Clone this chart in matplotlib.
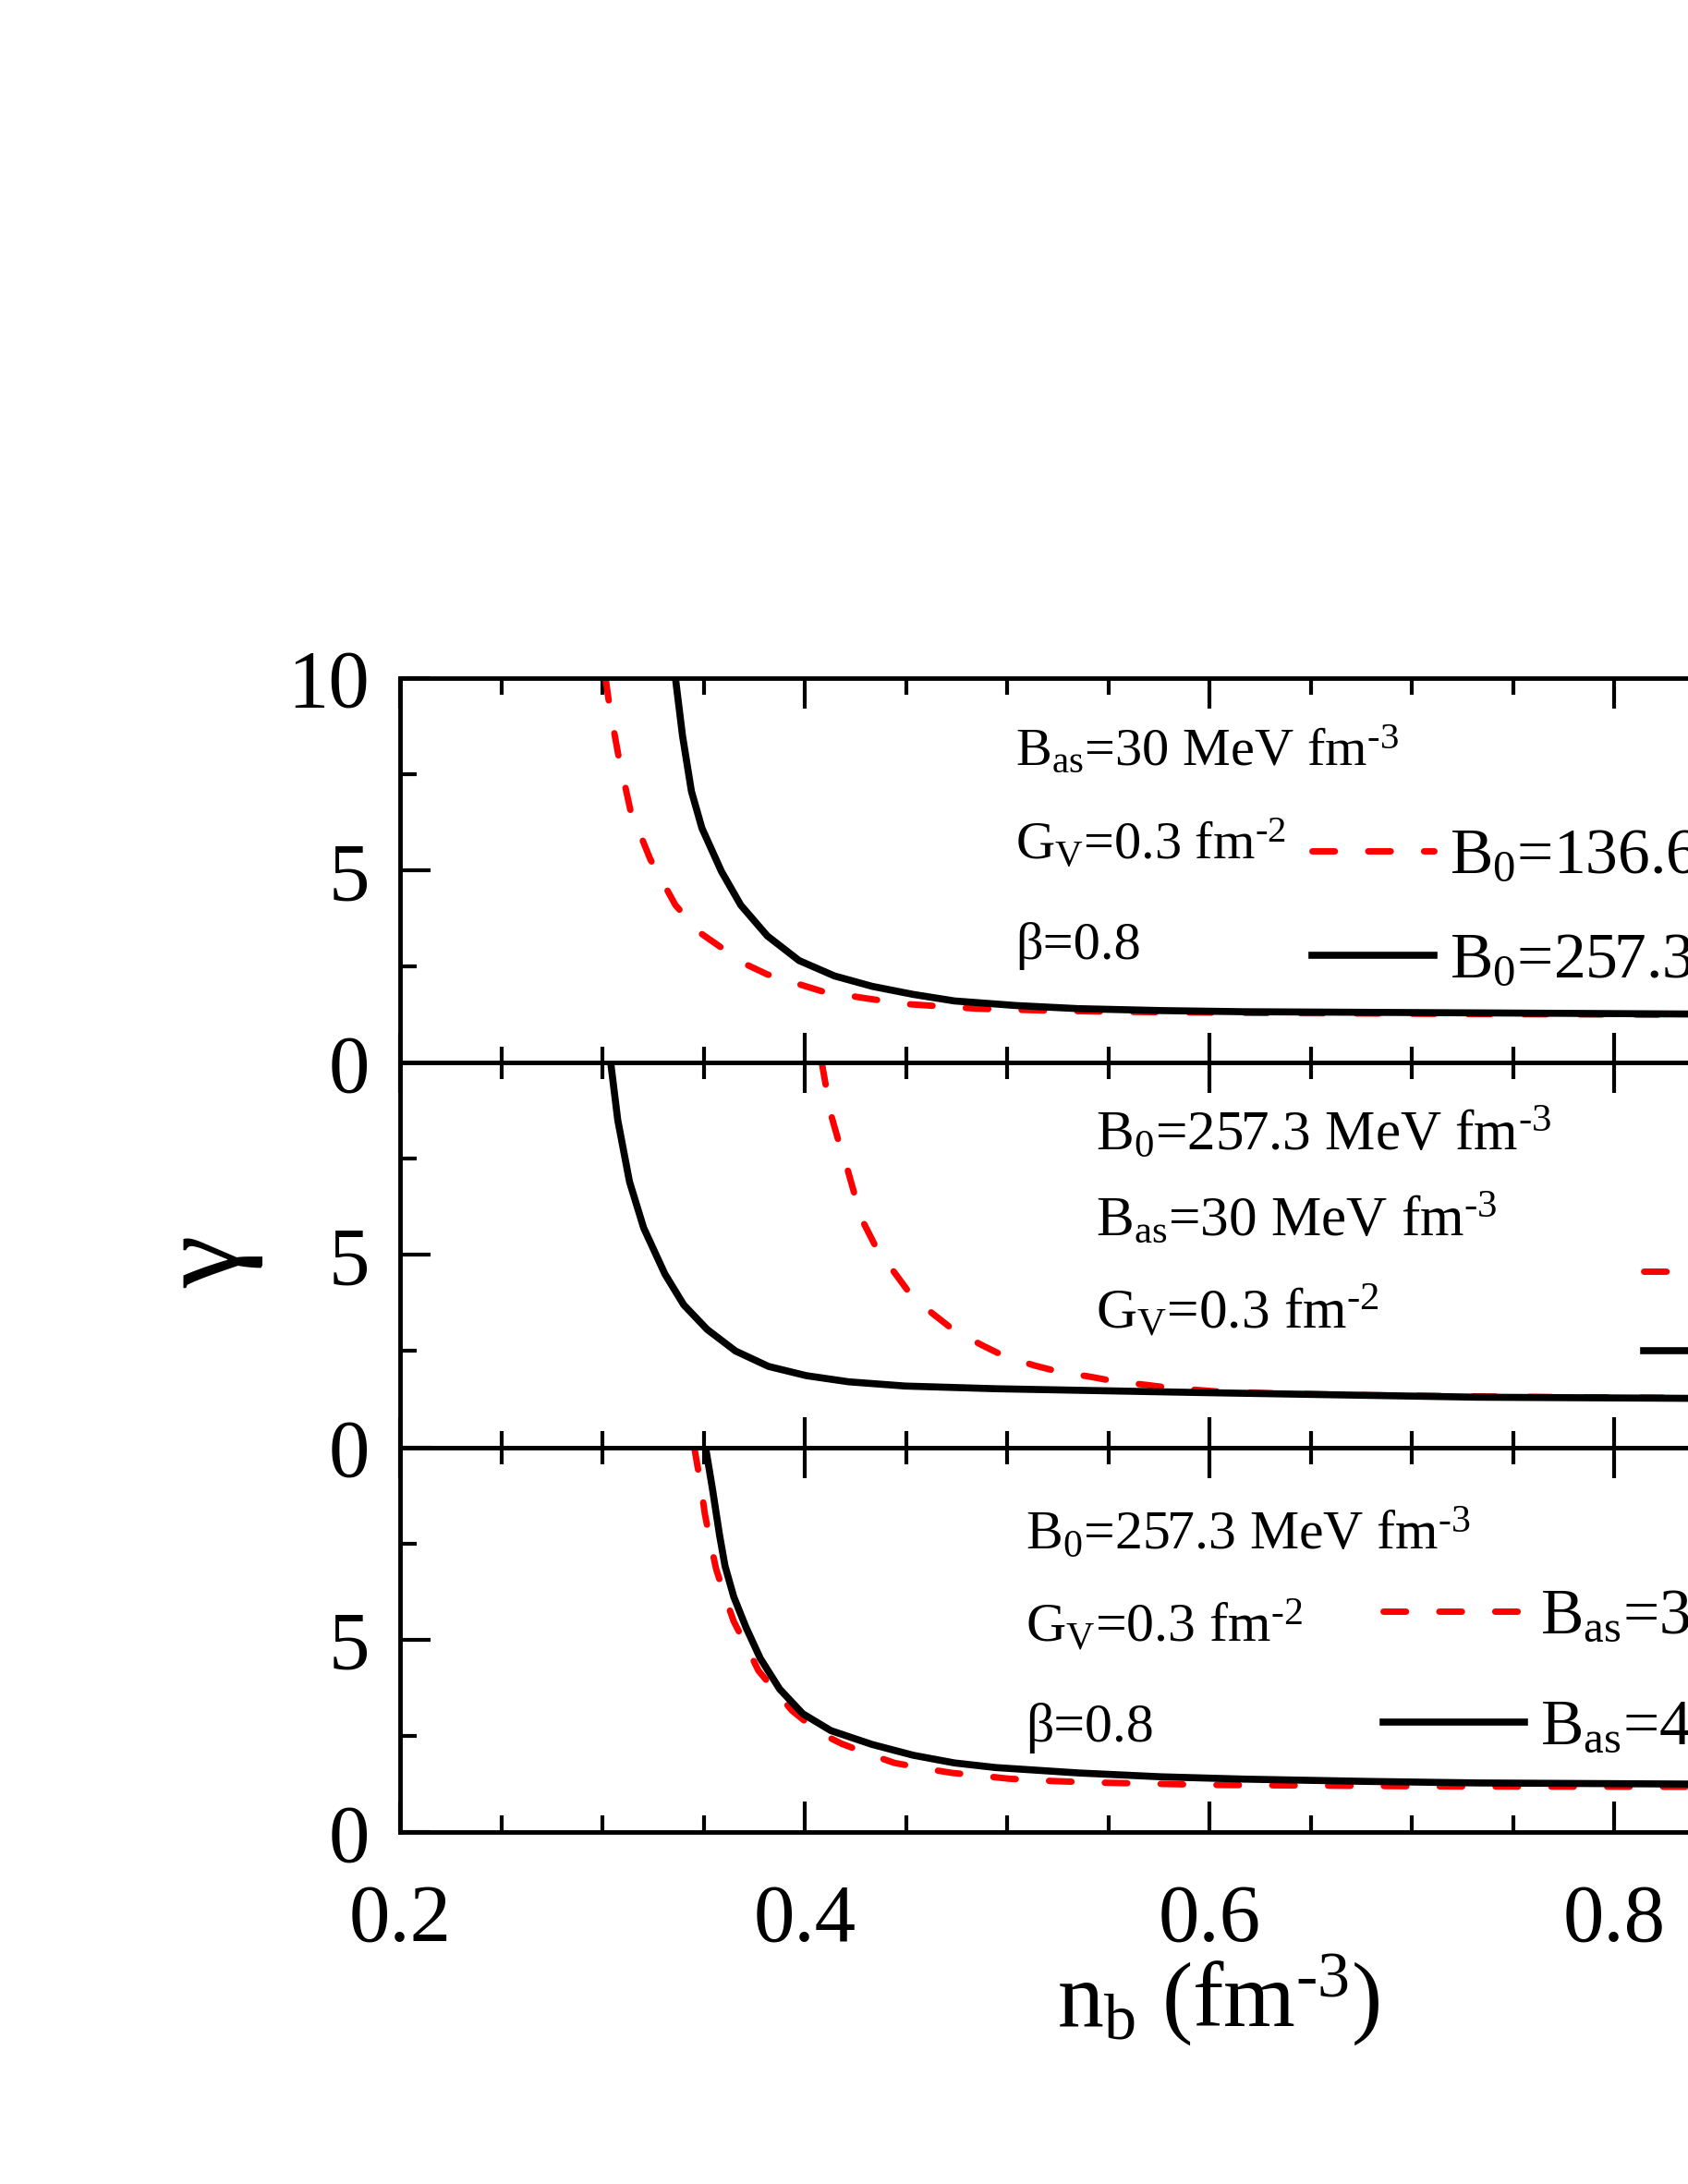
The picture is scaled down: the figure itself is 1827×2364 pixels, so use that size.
import matplotlib
matplotlib.use('Agg')
import matplotlib.pyplot as plt
from matplotlib.ticker import MultipleLocator

plt.rcParams['font.family'] = ['Liberation Serif', 'DejaVu Serif']
plt.rcParams['mathtext.fontset'] = 'custom'
plt.rcParams['mathtext.rm'] = 'Liberation Serif'
plt.rcParams['mathtext.it'] = 'Liberation Serif:italic'

# panel 1: varying B0
x_top_red = [0.3016, 0.303, 0.3056, 0.3078, 0.3138, 0.3236, 0.3361, 0.3483, 0.3702, 0.3815,
             0.4086, 0.43, 0.45, 0.485, 0.52, 0.55, 0.62, 0.73, 0.84, 1.0]
y_top_red = [10.0, 9.46, 8.66, 8.02, 6.58, 5.3, 4.1, 3.38, 2.58, 2.3,
             1.86, 1.68, 1.53, 1.41, 1.36, 1.33, 1.3, 1.27, 1.25, 1.22]
x_top_blk = [0.3361, 0.3396, 0.344, 0.3492, 0.3588, 0.3684, 0.3815, 0.3972, 0.4147, 0.4333,
             0.4536, 0.474, 0.5046, 0.5352, 0.576, 0.6167, 0.7325, 0.84, 1.0]
y_top_blk = [10.0, 8.5, 7.06, 6.1, 4.98, 4.1, 3.3, 2.66, 2.26, 1.99,
             1.78, 1.61, 1.49, 1.41, 1.36, 1.33, 1.3, 1.27, 1.24]

# panel 2: varying beta
x_mid_red = [0.4084, 0.4129, 0.417, 0.421, 0.425, 0.429, 0.435, 0.4435, 0.4505, 0.4628,
             0.473, 0.4873, 0.4985, 0.5138, 0.525, 0.5413, 0.5535, 0.5688, 0.581, 0.6035,
             0.631, 0.68, 0.75, 0.84, 1.0]
y_mid_red = [10.0, 8.66, 7.9, 7.25, 6.5, 5.84, 5.22, 4.6, 4.1, 3.49,
             3.07, 2.66, 2.37, 2.12, 1.97, 1.83, 1.71, 1.62, 1.54, 1.45,
             1.4, 1.35, 1.31, 1.28, 1.25]
x_mid_blk = [0.3041, 0.3076, 0.3134, 0.3204, 0.3309, 0.3402, 0.3518, 0.3658, 0.3821, 0.4008,
             0.4217, 0.4497, 0.4944, 0.5963, 0.7325, 0.84, 1.0]
y_mid_blk = [10.0, 8.5, 6.9, 5.7, 4.5, 3.7, 3.06, 2.5, 2.1, 1.86,
             1.7, 1.59, 1.52, 1.42, 1.3, 1.27, 1.24]

# panel 3: varying Bas
x_bot_red = [0.3454, 0.3487, 0.3506, 0.3536, 0.3562, 0.3606, 0.3649, 0.3719, 0.3771, 0.3859,
             0.3937, 0.4068, 0.4182, 0.4333, 0.4444, 0.4608, 0.473, 0.4886, 0.5008, 0.5223,
             0.5443, 0.572, 0.599, 0.627, 0.684, 0.719, 0.84, 1.0]
y_bot_red = [10.0, 9.0, 8.28, 7.48, 6.84, 6.12, 5.48, 4.76, 4.2, 3.64,
             3.16, 2.6, 2.3, 2.0, 1.8, 1.64, 1.54, 1.46, 1.39, 1.33,
             1.29, 1.26, 1.23, 1.22, 1.2, 1.19, 1.18, 1.17]
x_bot_blk = [0.351, 0.3544, 0.3579, 0.3606, 0.3649, 0.371, 0.378, 0.3876, 0.399, 0.4129,
             0.4333, 0.4536, 0.474, 0.4944, 0.5352, 0.576, 0.6167, 0.6779, 0.7325, 0.84, 1.0]
y_bot_blk = [10.0, 8.92, 7.72, 6.92, 6.12, 5.32, 4.52, 3.72, 3.08, 2.64,
             2.28, 2.0, 1.8, 1.68, 1.54, 1.44, 1.38, 1.32, 1.28, 1.25, 1.22]

panel_text = [
    [r'B$_{\rm as}$=30 MeV fm$^{\text{-3}}$', r'G$_{\rm V}$=0.3 fm$^{\text{-2}}$', 'β=0.8'],
    [r'B$_0$=257.3 MeV fm$^{\text{-3}}$', r'B$_{\rm as}$=30 MeV fm$^{\text{-3}}$',
     r'G$_{\rm V}$=0.3 fm$^{\text{-2}}$'],
    [r'B$_0$=257.3 MeV fm$^{\text{-3}}$', r'G$_{\rm V}$=0.3 fm$^{\text{-2}}$', 'β=0.8'],
]
legend_text = [
    [r'B$_0$=136.6 MeV fm$^{\text{-3}}$', r'B$_0$=257.3 MeV fm$^{\text{-3}}$'],
    ['β=0.5', 'β=0.8'],
    [r'B$_{\rm as}$=30 MeV fm$^{\text{-3}}$', r'B$_{\rm as}$=40 MeV fm$^{\text{-3}}$'],
]

curves = [
    (x_top_red, y_top_red, x_top_blk, y_top_blk),
    (x_mid_red, y_mid_red, x_mid_blk, y_mid_blk),
    (x_bot_red, y_bot_red, x_bot_blk, y_bot_blk),
]

fig = plt.figure(figsize=(18.27, 23.64), dpi=100)

W, H = 1827.0, 2364.0
left = 433 / W
width = (2185 - 433) / W
tops = [734, 1150, 1566.7]
ph = 416.5

# text anchors (x, y of each line) and legend anchors, per panel
text_x = [0.504, 0.5438, 0.509]
text_y = [[7.73, 5.28, 2.71], [7.72, 5.49, 3.09], [7.34, 4.94, 2.35]]
text_size = [42, 44, 43]
leg_anchor = [(0.5634, 0.4026), (0.768, 0.336), (0.6073, 0.417)]
leg_hlen = [1.9, 2.1, 2.2]
leg_space = [0.64, 0.31, 0.75]

for i in range(3):
    bottom = 1 - (tops[i] + ph) / H
    ax = fig.add_axes([left, bottom, width, ph / H])
    xr, yr, xb, yb = curves[i]
    ax.plot(xr, yr, color='red', lw=5, ls=(0, (3.5, 5.2)), dash_capstyle='round',
            label=legend_text[i][0])
    ax.plot(xb, yb, color='black', lw=5.5, label=legend_text[i][1])
    ax.set_xlim(0.2, 1.0)
    ax.set_ylim(0, 10)
    ax.xaxis.set_major_locator(MultipleLocator(0.2))
    ax.xaxis.set_minor_locator(MultipleLocator(0.05))
    ax.yaxis.set_major_locator(MultipleLocator(5))
    ax.yaxis.set_minor_locator(MultipleLocator(2.5))
    ax.tick_params(which='both', direction='in', top=True, right=True, width=3)
    ax.tick_params(which='major', length=24, labelsize=64, pad=24)
    ax.tick_params(which='minor', length=13)
    ax.tick_params(axis='x', which='major', pad=40)
    for s in ax.spines.values():
        s.set_linewidth(3.5)
    if i < 2:
        ax.tick_params(axis='x', labelbottom=False)
    if i > 0:
        ax.set_yticks([0, 5])
        ax.set_yticks([2.5, 7.5], minor=True)
    for t, yy in zip(panel_text[i], text_y[i]):
        ax.text(text_x[i], yy, t, fontsize=text_size[i], va='baseline', ha='left')
    ax.legend(loc='center left', bbox_to_anchor=leg_anchor[i], frameon=False,
              fontsize=50, handlelength=leg_hlen[i], handletextpad=0.25,
              borderpad=0, borderaxespad=0, labelspacing=leg_space[i])

fig.text(227 / W, 1 - 1366 / H, 'γ', fontsize=92, rotation=90, ha='center', va='center')
fig.text(1319 / W, 1 - 2193 / H, r'n$_{\rm b}$ (fm$^{\text{-3}}$)', fontsize=72, ha='center',
         va='baseline')

fig.savefig('out.png', dpi=100)
